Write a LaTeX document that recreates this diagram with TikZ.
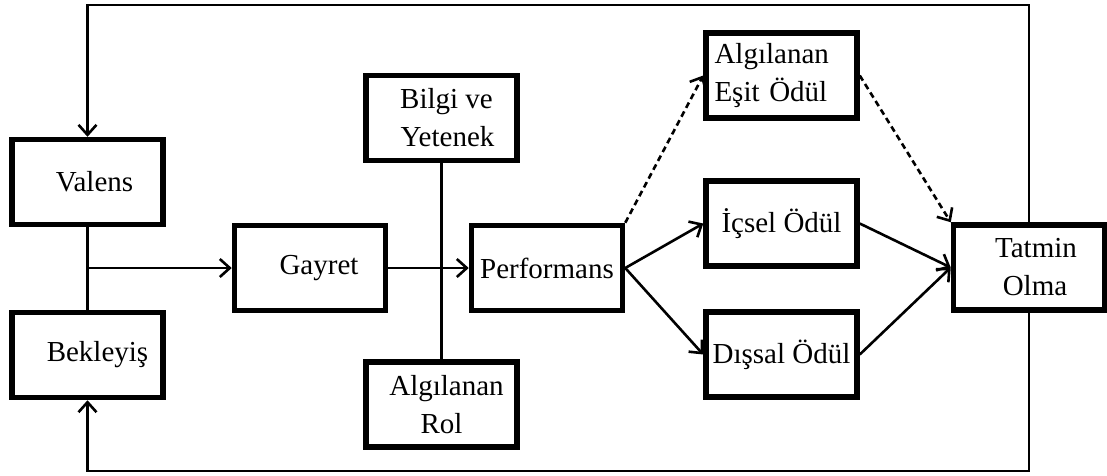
\documentclass[tikz,border=0pt]{standalone}
\usepackage{fontspec}
\setmainfont{Liberation Serif}
\usetikzlibrary{arrows.meta}
\begin{document}
\begin{tikzpicture}[x=1pt,y=-1pt,
  box/.style={draw, line width=5.5pt, minimum width=151pt, minimum height=85pt,
    inner sep=2pt, align=center, font=\fontsize{29}{38}\selectfont},
  link/.style={line width=2.6pt},
  arr/.style={link, -{Straight Barb[length=10pt,width=18pt]}},
  darr/.style={arr, dash pattern=on 6pt off 4pt}]
\useasboundingbox (0,0) rectangle (1107,475);

% boxes
\node[box] (val) at (87.5,182) {\hspace*{14pt}Valens};
\node[box] (bek) at (87.5,355) {\hspace*{20pt}Bekleyiş};
\node[box] (gay) at (310,268) {\hspace*{18pt}Gayret};
\node[box] (bil) at (441.5,118) {\hspace*{10pt}Bilgi ve\\\hspace*{12pt}Yetenek};
\node[box] (per) at (547,268) {Performans};
\node[box] (rol) at (441.5,404.5) {\hspace*{10pt}Algılanan\\Rol};
\node[box, text width=134pt, align=left] (esi) at (781.5,75.5) {Algılanan\\Eşit Ödül};
\node[box] (ics) at (781.5,223.5) {İçsel Ödül};
\node[box] (dis) at (781.5,354.5) {Dışsal Ödül};
\node[box] (tat) at (1029,267.5) {\hspace*{14pt}Tatmin\\\hspace*{12pt}Olma};

% feedback loop levels
\coordinate (topY) at (0,5);
\coordinate (botY) at (0,471);

% feedback from satisfaction
\draw[arr] (tat.north) -- (tat.north |- topY) -| (val.north);
\draw[arr] (tat.south) -- (tat.south |- botY) -| (bek.south);

% valence and expectancy into effort
\draw[link] (val.south) -- (bek.north);
\draw[arr] (val.south |- gay.west) -- (gay.west);

% effort to performance, with ability and role perception
\draw[link] (bil.south) -- (rol.north);
\draw[arr] (gay.east) -- (per.west);

% rewards
\draw[darr] (per.north east) -- (esi.west);
\draw[arr] (per.east) -- (ics.west);
\draw[arr] (per.east) -- (dis.west);

% rewards to satisfaction
\draw[darr] (esi.east) -- (tat.north west);
\draw[arr] (ics.east) -- (tat.west);
\draw[arr] (dis.east) -- (tat.west);
\end{tikzpicture}
\end{document}
